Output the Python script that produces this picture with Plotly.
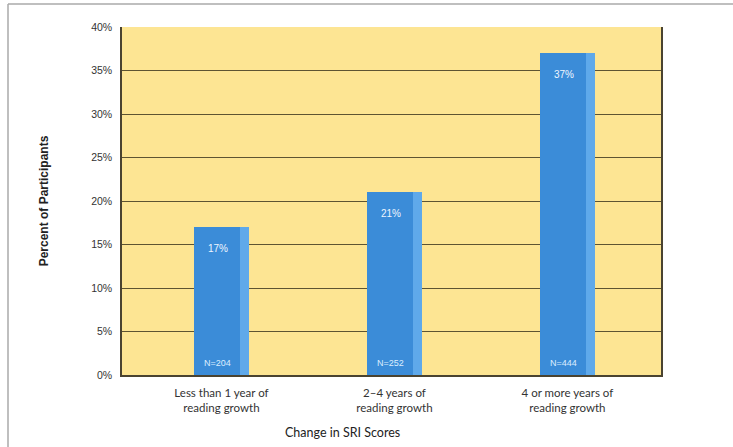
import plotly.graph_objects as go

# Share of participants by change in SRI scores
categories = ["Less than 1 year of<br>reading growth",
              "2\u20134 years of<br>reading growth",
              "4 or more years of<br>reading growth"]
percents = [17, 21, 37]
value_labels = ["17%", "21%", "37%"]
n_labels = ["N=204", "N=252", "N=444"]
y_ticks = [0, 5, 10, 15, 20, 25, 30, 35, 40]
y_tick_labels = ["0%", "5%", "10%", "15%", "20%", "25%", "30%", "35%", "40%"]

BAR_FRONT = "#3b8cd8"
BAR_SIDE = "#5fa9ea"
PLOT_BG = "#fde593"
GRID = "#5e5432"
TEXT = "#333333"

fig = go.Figure()

# front face of each column
fig.add_trace(go.Bar(
    x=categories, y=percents, width=0.27, offset=-0.16,
    marker=dict(color=BAR_FRONT, line=dict(width=0)),
    hoverinfo="skip", showlegend=False,
))
# lighter right-hand face for a slight depth effect
fig.add_trace(go.Bar(
    x=categories, y=percents, width=0.05, offset=0.11,
    marker=dict(color=BAR_SIDE, line=dict(width=0)),
    hoverinfo="skip", showlegend=False,
))

annotations = []
for cat, val, lab, n in zip(categories, percents, value_labels, n_labels):
    annotations.append(dict(
        x=cat, y=val, xref="x", yref="y", text=lab, showarrow=False,
        yanchor="top", yshift=-14, xshift=-3,
        font=dict(family="Liberation Sans, Arial", size=10, color="#eef6ff"),
    ))
    annotations.append(dict(
        x=cat, y=0, xref="x", yref="y", text=n, showarrow=False,
        yanchor="bottom", yshift=5, xshift=-4,
        font=dict(family="Liberation Sans, Arial", size=9, color="#dbeeff"),
    ))

# x-axis title
annotations.append(dict(
    x=0.41, y=-0.164, xref="paper", yref="paper", yanchor="middle",
    text="Change in SRI Scores", showarrow=False,
    font=dict(family="Lato, Liberation Sans", size=12.5, color="#222222"),
))

fig.update_layout(
    width=733, height=447,
    margin=dict(l=122, r=72, t=27, b=72),
    paper_bgcolor="white",
    plot_bgcolor=PLOT_BG,
    barmode="overlay",
    bargap=0,
    annotations=annotations,
    font=dict(family="Liberation Sans, Arial", color=TEXT),
    shapes=[
        # outer frame (top and left edges)
        dict(type="line", xref="paper", yref="paper",
             x0=-0.2115, x1=1.2, y0=1.066, y1=1.066,
             line=dict(color="#aaaaaa", width=1.5)),
        dict(type="line", xref="paper", yref="paper",
             x0=-0.2115, x1=-0.2115, y0=1.066, y1=-0.23,
             line=dict(color="#aaaaaa", width=1.5)),
    ],
)

fig.update_xaxes(
    type="category",
    range=[-0.575, 2.541],
    showgrid=False,
    showline=True, linecolor="#4a4330", linewidth=2, mirror=False,
    ticks="", tickfont=dict(family="Lato, Liberation Sans", size=11.5, color="#333333"),
    ticklabelstandoff=6,
)
fig.update_yaxes(
    range=[0, 40],
    tickvals=y_ticks, ticktext=y_tick_labels,
    showgrid=True, gridcolor=GRID, gridwidth=1,
    showline=True, linecolor="#4a4330", linewidth=1.5, mirror=True,
    zeroline=False,
    ticks="", tickfont=dict(family="Liberation Sans, Arial", size=10.5, color="#333333"),
    ticklabelstandoff=6,
    title=dict(text="<b>Percent of Participants</b>",
               font=dict(family="Liberation Sans, Arial", size=12, color="#222222"),
               standoff=40),
)

fig.write_html("out.html")
